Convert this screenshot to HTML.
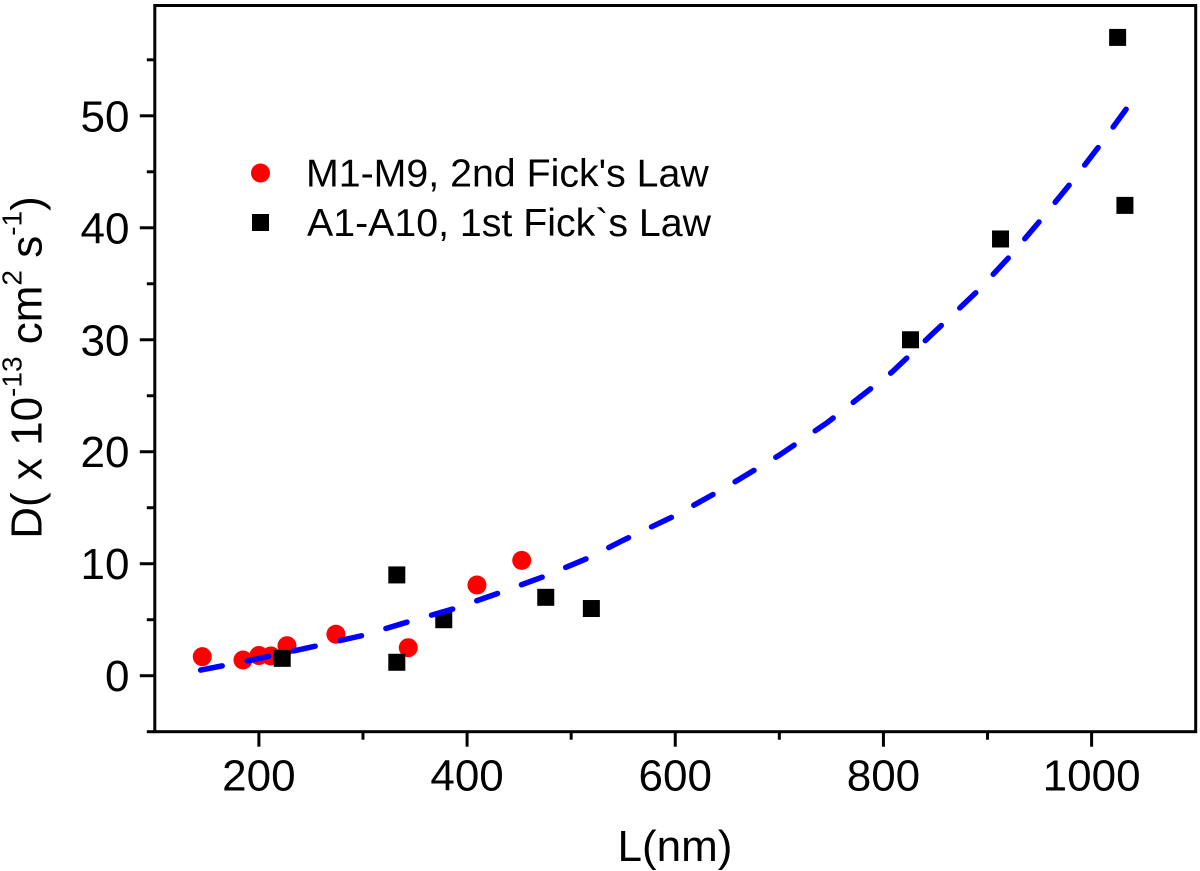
<!DOCTYPE html>
<html lang="en">
<head>
<meta charset="utf-8">
<title>Diffusion coefficient versus L</title>
<style>
html,body{margin:0;padding:0;background:#fff;}
svg{display:block;}
text{font-family:"Liberation Sans",Arial,sans-serif;fill:#000;}
</style>
</head>
<body>
<svg id="chart" width="1200" height="871" viewBox="0 0 1200 871" xmlns="http://www.w3.org/2000/svg">
  <rect x="0" y="0" width="1200" height="871" fill="#fff"/>
  <g id="ticks"></g>
  <g id="labels"></g>
  <g id="red-series"></g>
  <g id="black-series"></g>
  <path id="fit" fill="none" stroke="#0000ff" stroke-width="5.5" stroke-linecap="round" stroke-linejoin="round" stroke-dasharray="22 25.5"></path>
  <rect id="frame" fill="none" stroke="#000" stroke-width="3"></rect>
  <g>
    <circle cx="260.5" cy="173" r="9.5" fill="#ff0000"/>
    <text x="306" y="186.5" font-size="39.3">M1-M9, 2nd Fick's Law</text>
    <rect x="252" y="214" width="17" height="17" fill="#000"/>
    <text x="307" y="236" font-size="39.3">A1-A10, 1st Fick`s Law</text>
  </g>
  <text x="675" y="861" font-size="44" text-anchor="middle">L(nm)</text>
  <text transform="translate(41.7,367.5) rotate(-90)" font-size="44" text-anchor="middle">D( x 10<tspan font-size="28" dy="-20">-13</tspan><tspan dy="20"> cm</tspan><tspan font-size="28" dy="-20">2</tspan><tspan dy="20"> s</tspan><tspan font-size="28" dy="-20">-1</tspan><tspan dy="20">)</tspan></text>
</svg>
<script>
const xTickValues = [200, 400, 600, 800, 1000];
const xMinorValues = [300, 500, 700, 900];
const yTickValues = [0, 10, 20, 30, 40, 50];
const yMinorValues = [-5, 5, 15, 25, 35, 45, 55];
const redX = [145.6, 184.7, 200, 211.5, 227, 274, 343.5, 409.5, 452.5];
const redY = [1.7, 1.4, 1.8, 1.76, 2.68, 3.7, 2.5, 8.1, 10.3];
const blackX = [222.4, 332.5, 332.5, 377.6, 475.6, 519.4, 826, 912.5, 1025, 1032];
const blackY = [1.55, 9, 1.2, 5, 7, 6, 30, 39, 57, 42];
const fitX = [144, 190, 255, 300, 343, 388, 431, 475, 516, 550, 600, 650, 700, 746, 808, 857, 891, 922, 952, 981, 1009, 1034];
const fitY = [0.5, 1.34, 2.65, 3.6, 4.8, 6.0, 7.4, 8.9, 10.5, 12.1, 14.3, 16.9, 19.7, 22.6, 27.1, 31.4, 34.4, 37.5, 40.8, 44.1, 47.5, 50.7];

const NS = 'http://www.w3.org/2000/svg';
const xDomain = [100, 1100];
const yDomain = [-5, 59.85];
const plot = {left: 154.8, right: 1195.7, top: 5.5, bottom: 731.7};
function xScale(v) {
  return plot.left + (v - xDomain[0]) * (plot.right - plot.left) / (xDomain[1] - xDomain[0]);
}
function yScale(v) {
  return plot.bottom - (v - yDomain[0]) * (plot.bottom - plot.top) / (yDomain[1] - yDomain[0]);
}
function make(tag, attrs, parent) {
  const el = document.createElementNS(NS, tag);
  for (const k in attrs) el.setAttribute(k, attrs[k]);
  parent.appendChild(el);
  return el;
}
const frame = document.getElementById('frame');
frame.setAttribute('x', plot.left);
frame.setAttribute('y', plot.top);
frame.setAttribute('width', plot.right - plot.left);
frame.setAttribute('height', plot.bottom - plot.top);

const ticks = document.getElementById('ticks');
const labels = document.getElementById('labels');

xTickValues.forEach(function (v) {
  const t = make('line', {x1: xScale(v), x2: xScale(v), y1: plot.bottom, y2: plot.bottom + 15, stroke: '#000', 'stroke-width': 3}, ticks);
  
  
  const l = make('text', {x: xScale(v), y: 790.5, 'font-size': 44, 'text-anchor': 'middle'}, labels);
  l.textContent = String(v);
  
  
});
xMinorValues.forEach(function (v) {
  const t = make('line', {x1: xScale(v), x2: xScale(v), y1: plot.bottom, y2: plot.bottom + 8, stroke: '#000', 'stroke-width': 3}, ticks);
  
  
});
yTickValues.forEach(function (v) {
  const t = make('line', {x1: plot.left, x2: plot.left - 15, y1: yScale(v), y2: yScale(v), stroke: '#000', 'stroke-width': 3}, ticks);
  
  
  const l = make('text', {x: 129.5, y: yScale(v) + 15.5, 'font-size': 44, 'text-anchor': 'end'}, labels);
  l.textContent = String(v);
  
  
});
yMinorValues.forEach(function (v) {
  const t = make('line', {x1: plot.left, x2: plot.left - 8, y1: yScale(v), y2: yScale(v), stroke: '#000', 'stroke-width': 3}, ticks);
  
  
});

const redGroup = document.getElementById('red-series');
redX.forEach(function (v, i) {
  const c = make('circle', {cx: xScale(v), cy: yScale(redY[i]), r: 9.5, fill: '#ff0000'}, redGroup);
  
  
});
const blackGroup = document.getElementById('black-series');
blackX.forEach(function (v, i) {
  const r = make('rect', {x: xScale(v) - 8.5, y: yScale(blackY[i]) - 8.5, width: 17, height: 17, fill: '#000'}, blackGroup);
  
  
});
document.getElementById('fit').setAttribute('d', fitX.map(function (v, i) {
  return (i ? 'L' : 'M') + xScale(v).toFixed(2) + ' ' + yScale(fitY[i]).toFixed(2);
}).join(' '));
</script>
</body>
</html>
